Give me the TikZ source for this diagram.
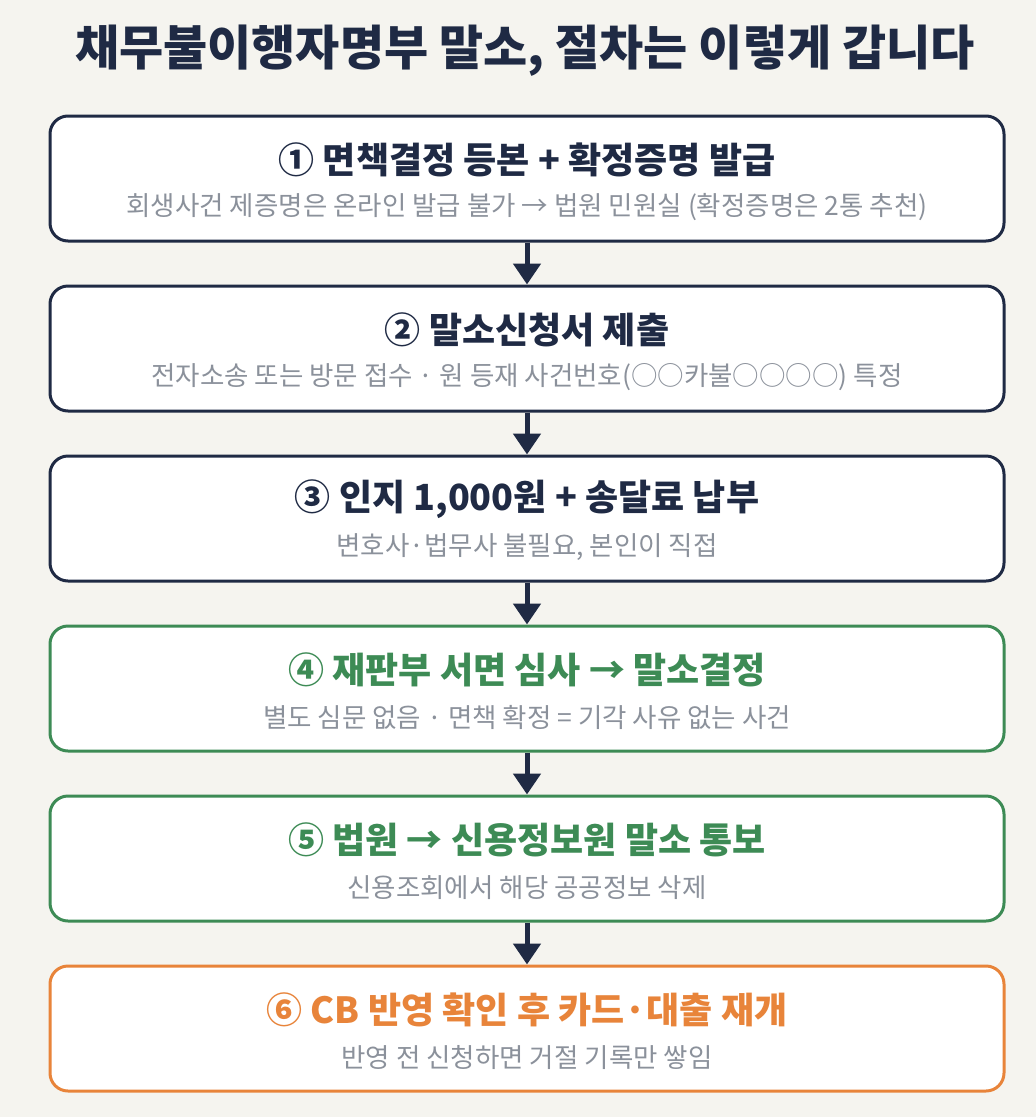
\documentclass[tikz,border=0pt]{standalone}
\usepackage{fontspec}
\setmainfont{Noto Sans CJK KR}
\usepackage{tikz}
\usetikzlibrary{positioning,arrows.meta}

\definecolor{navy}{HTML}{1F2A44}
\definecolor{okgreen}{HTML}{3D8B55}
\definecolor{warnorange}{HTML}{E8843A}
\definecolor{subgrey}{HTML}{8B919B}
\definecolor{paper}{HTML}{F5F4EF}

\tikzset{
  stepbox/.style={draw=#1, fill=white, line width=3pt, rounded corners=18pt,
    minimum width=954pt, minimum height=125pt},
  head/.style={text=#1, font=\bfseries\fontsize{36}{42}\selectfont},
  sub/.style={text=subgrey, font=\fontsize{26.5}{31}\selectfont},
  flow/.style={draw=navy, line width=5pt, -{Triangle[width=27pt,length=21pt]}}
}

\begin{document}
\begin{tikzpicture}[x=1pt,y=1pt]

  % background and size of the page
  \fill[paper] (0,0) rectangle (1036,-1117);
  \useasboundingbox (0,0) rectangle (1036,-1117);

  % title
  \node[text=navy, font=\bfseries\fontsize{48}{56}\selectfont] (title) at (525,-51)
    {채무불이행자명부 말소, 절차는 이렇게 갑니다};

  % the six steps
  \node[stepbox=navy] (b1) at (527,-178.5) {};
  \node[stepbox=navy, below=42pt of b1] (b2) {};
  \node[stepbox=navy, below=42pt of b2] (b3) {};
  \node[stepbox=okgreen, below=42pt of b3] (b4) {};
  \node[stepbox=okgreen, below=42pt of b4] (b5) {};
  \node[stepbox=warnorange, below=42pt of b5] (b6) {};

  % headings and notes
  \node[head=navy] (h1) at ([yshift=-45pt]b1.north) {① 면책결정 등본 + 확정증명 발급};
  \node[sub] (s1) at ([yshift=-93pt]b1.north) {회생사건 제증명은 온라인 발급 불가 → 법원 민원실 (확정증명은 2통 추천)};

  \node[head=navy] (h2) at ([yshift=-45pt]b2.north) {② 말소신청서 제출};
  \node[sub] (s2) at ([yshift=-93pt]b2.north) {전자소송 또는 방문 접수 · 원 등재 사건번호(○○카불○○○○) 특정};

  \node[head=navy] (h3) at ([yshift=-45pt]b3.north) {③ 인지 1,000원 + 송달료 납부};
  \node[sub] (s3) at ([yshift=-93pt]b3.north) {변호사·법무사 불필요, 본인이 직접};

  \node[head=okgreen] (h4) at ([yshift=-45pt]b4.north) {④ 재판부 서면 심사 → 말소결정};
  \node[sub] (s4) at ([yshift=-93pt]b4.north) {별도 심문 없음 · 면책 확정 = 기각 사유 없는 사건};

  \node[head=okgreen] (h5) at ([yshift=-45pt]b5.north) {⑤ 법원 → 신용정보원 말소 통보};
  \node[sub] (s5) at ([yshift=-93pt]b5.north) {신용조회에서 해당 공공정보 삭제};

  \node[head=warnorange] (h6) at ([yshift=-45pt]b6.north) {⑥ CB 반영 확인 후 카드·대출 재개};
  \node[sub] (s6) at ([yshift=-93pt]b6.north) {반영 전 신청하면 거절 기록만 쌓임};

  % arrows between the steps
  \draw[flow] (b1) -- (b2);
  \draw[flow] (b2) -- (b3);
  \draw[flow] (b3) -- (b4);
  \draw[flow] (b4) -- (b5);
  \draw[flow] (b5) -- (b6);

\end{tikzpicture}
\end{document}
